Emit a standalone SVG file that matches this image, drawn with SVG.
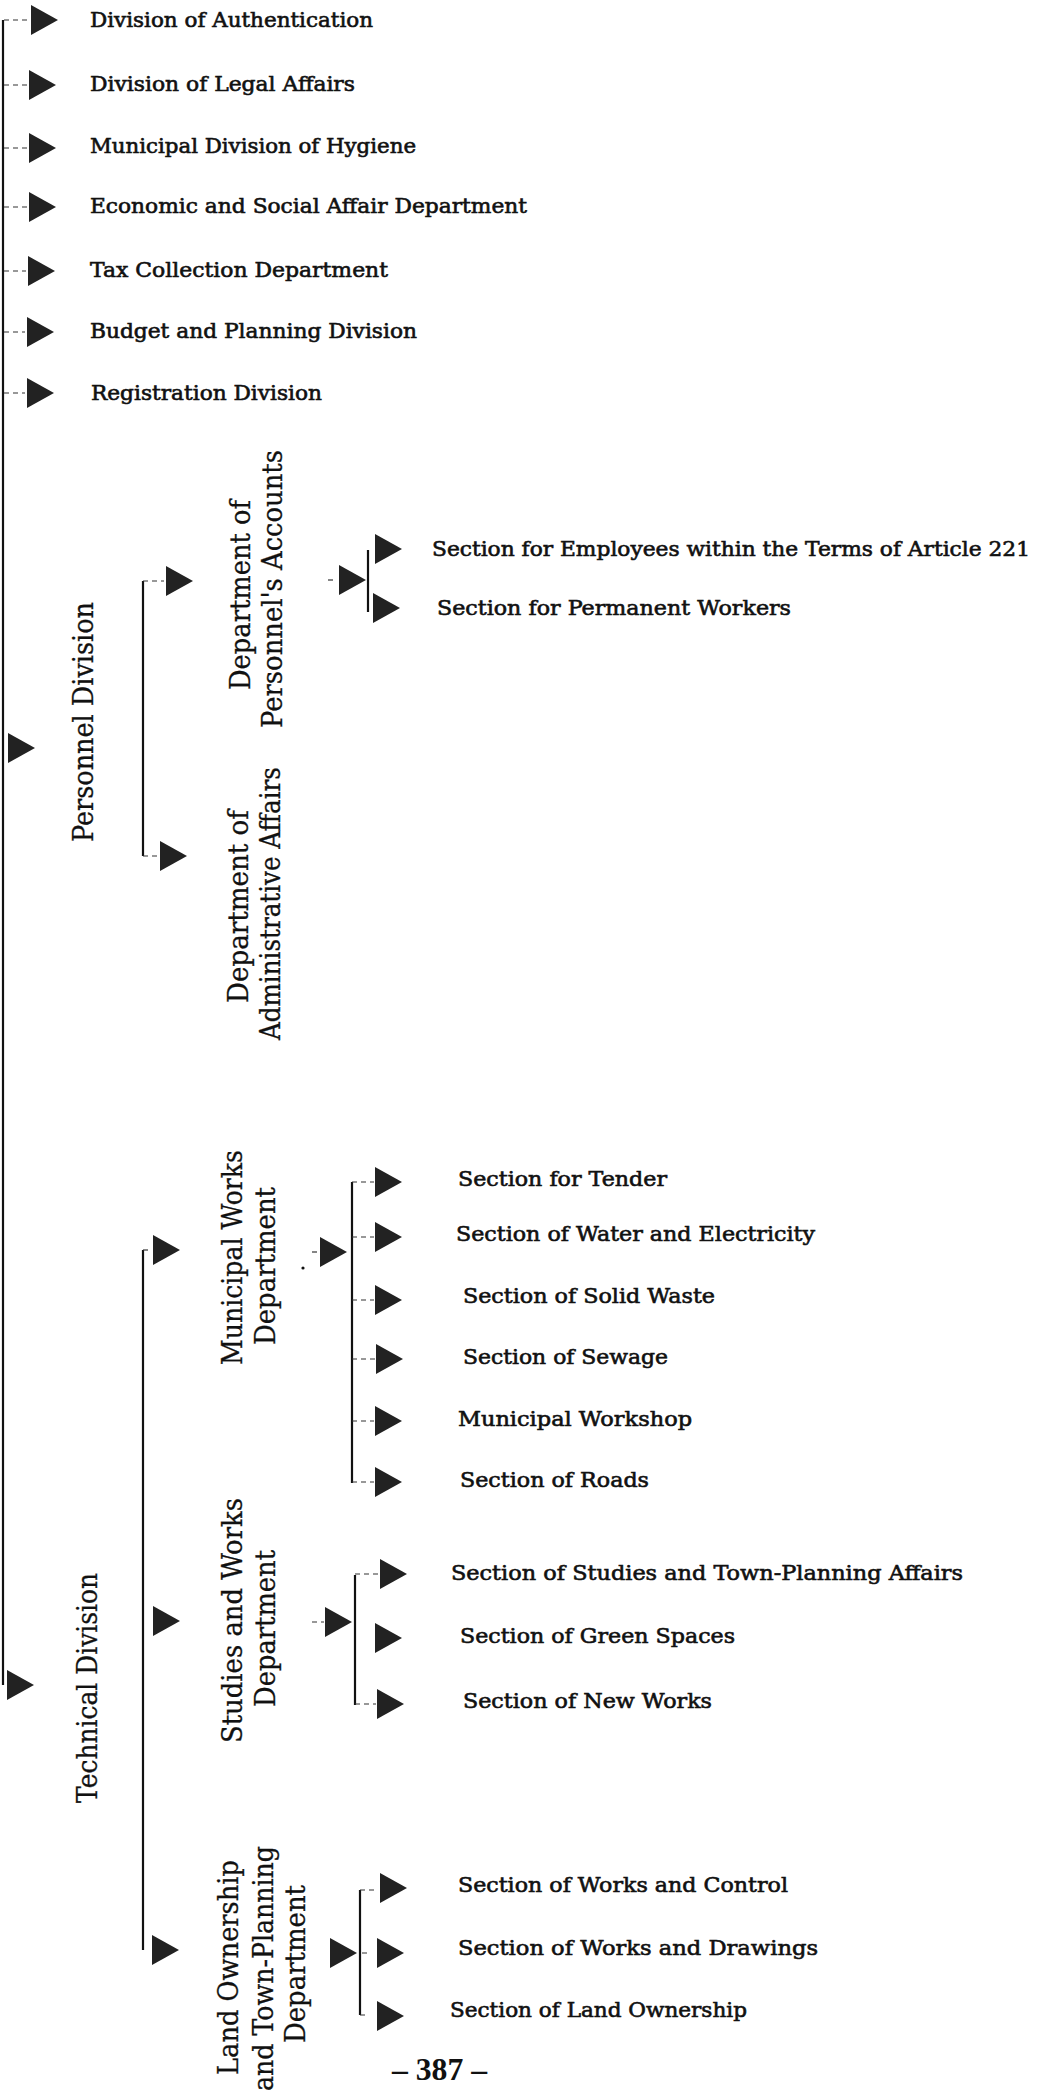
<svg xmlns="http://www.w3.org/2000/svg" width="1050" height="2093" viewBox="0 0 1050 2093">
  <style>
    .h { font-family: "DejaVu Serif", "Liberation Serif", serif; font-size: 20px; fill: #111; stroke: #111; stroke-width: 0.6; }
    .v { font-family: "DejaVu Serif", "Liberation Serif", serif; font-size: 27px; fill: #111; stroke: #111; stroke-width: 0.3; }
    .pg { font-family: "Liberation Serif", serif; font-size: 31px; font-weight: bold; fill: #111; }
    .ln { stroke: #111; stroke-width: 2.2; fill: none; }
    .st { stroke: #333; stroke-width: 1.2; stroke-dasharray: 5 4; fill: none; }
    .arw { fill: #222; }
  </style>
  <defs>
    <path id="tri" d="M0,-15 L27,0 L0,15 Z"/>
  </defs>
  <rect width="1050" height="2093" fill="#fff"/>

  <!-- connectors: trunk, brackets and stubs -->
  <g id="connectors">
    <path class="ln" d="M3,20 V1685"/>
    <path class="st" d="M4,20 H28 M4,85 H27 M4,148 H27 M4,207 H27 M4,271 H26 M4,332 H25 M4,393 H25"/>
    <!-- personnel division -->
    <path class="ln" d="M143,581 V856"/>
    <path class="st" d="M143,581 H164 M143,856 H158"/>
    <!-- personnel's accounts -->
    <path class="st" d="M328,580 H337"/>
    <use href="#tri" class="arw" x="339" y="580"/>
    <path class="ln" d="M368,550 V612"/>
    <!-- technical division -->
    <path class="ln" d="M143,1250 V1950"/>
    <path class="st" d="M143,1250 H151"/>
    <!-- municipal works -->
    <path class="st" d="M312,1252 H319"/>
    <use href="#tri" class="arw" x="320" y="1252"/>
    <circle cx="303" cy="1268" r="1.6" fill="#111"/>
    <path class="ln" d="M352,1182 V1483"/>
    <path class="st" d="M352,1182 H374 M352,1237 H374 M352,1300 H374 M352,1359 H375 M352,1421 H374 M352,1482 H374"/>
    <!-- studies and works -->
    <path class="st" d="M312,1622 H324"/>
    <use href="#tri" class="arw" x="325" y="1622"/>
    <path class="ln" d="M355,1575 V1705"/>
    <path class="st" d="M355,1574 H378 M355,1704 H376"/>
    <!-- land ownership -->
    <use href="#tri" class="arw" x="330" y="1953"/>
    <path class="ln" d="M360,1890 V2015"/>
    <path class="st" d="M360,1890 H378 M362,1953 H367 M360,2015 H367"/>
  </g>

  <!-- directly attached divisions -->
  <g id="div-authentication">
    <use href="#tri" class="arw" x="31" y="20"/>
    <text class="h" x="90" y="27" textLength="283" lengthAdjust="spacingAndGlyphs">Division of Authentication</text>
  </g>
  <g id="div-legal-affairs">
    <use href="#tri" class="arw" x="29" y="85"/>
    <text class="h" x="90" y="91" textLength="265" lengthAdjust="spacingAndGlyphs">Division of Legal Affairs</text>
  </g>
  <g id="div-hygiene">
    <use href="#tri" class="arw" x="29" y="148"/>
    <text class="h" x="90" y="153" textLength="326" lengthAdjust="spacingAndGlyphs">Municipal Division of Hygiene</text>
  </g>
  <g id="dep-economic-social">
    <use href="#tri" class="arw" x="29" y="207"/>
    <text class="h" x="90" y="213" textLength="437" lengthAdjust="spacingAndGlyphs">Economic and Social Affair Department</text>
  </g>
  <g id="dep-tax-collection">
    <use href="#tri" class="arw" x="28" y="271"/>
    <text class="h" x="90" y="277" textLength="298" lengthAdjust="spacingAndGlyphs">Tax Collection Department</text>
  </g>
  <g id="div-budget-planning">
    <use href="#tri" class="arw" x="27" y="332"/>
    <text class="h" x="90" y="338" textLength="327" lengthAdjust="spacingAndGlyphs">Budget and Planning Division</text>
  </g>
  <g id="div-registration">
    <use href="#tri" class="arw" x="27" y="393"/>
    <text class="h" x="91" y="400" textLength="231" lengthAdjust="spacingAndGlyphs">Registration Division</text>
  </g>

  <!-- personnel division -->
  <g id="div-personnel">
    <use href="#tri" class="arw" x="8" y="748"/>
    <text class="v" transform="translate(93,842) rotate(-90)" textLength="240" lengthAdjust="spacingAndGlyphs">Personnel Division</text>
  </g>
  <g id="dep-personnel-accounts">
    <use href="#tri" class="arw" x="166" y="581"/>
    <text class="v" transform="translate(250,690) rotate(-90)" textLength="190" lengthAdjust="spacingAndGlyphs">Department of</text>
    <text class="v" transform="translate(282,728) rotate(-90)" textLength="278" lengthAdjust="spacingAndGlyphs">Personnel's Accounts</text>
  </g>
  <g id="dep-administrative-affairs">
    <use href="#tri" class="arw" x="160" y="856"/>
    <text class="v" transform="translate(248,1003) rotate(-90)" textLength="193" lengthAdjust="spacingAndGlyphs">Department of</text>
    <text class="v" transform="translate(280,1040) rotate(-90)" textLength="273" lengthAdjust="spacingAndGlyphs">Administrative Affairs</text>
  </g>
  <g id="sec-article-221">
    <use href="#tri" class="arw" x="375" y="549"/>
    <text class="h" x="432" y="556" textLength="598" lengthAdjust="spacingAndGlyphs">Section for Employees within the Terms of Article 221</text>
  </g>
  <g id="sec-permanent-workers">
    <use href="#tri" class="arw" x="373" y="608"/>
    <text class="h" x="437" y="615" textLength="354" lengthAdjust="spacingAndGlyphs">Section for Permanent Workers</text>
  </g>

  <!-- technical division -->
  <g id="div-technical">
    <use href="#tri" class="arw" x="7" y="1685"/>
    <text class="v" transform="translate(97,1803) rotate(-90)" textLength="230" lengthAdjust="spacingAndGlyphs">Technical Division</text>
  </g>
  <g id="dep-municipal-works">
    <use href="#tri" class="arw" x="153" y="1250"/>
    <text class="v" transform="translate(242,1365) rotate(-90)" textLength="215" lengthAdjust="spacingAndGlyphs">Municipal Works</text>
    <text class="v" transform="translate(275,1345) rotate(-90)" textLength="158" lengthAdjust="spacingAndGlyphs">Department</text>
  </g>
  <g id="dep-studies-works">
    <use href="#tri" class="arw" x="153" y="1621"/>
    <text class="v" transform="translate(242,1743) rotate(-90)" textLength="245" lengthAdjust="spacingAndGlyphs">Studies and Works</text>
    <text class="v" transform="translate(275,1707) rotate(-90)" textLength="157" lengthAdjust="spacingAndGlyphs">Department</text>
  </g>
  <g id="dep-land-ownership">
    <use href="#tri" class="arw" x="152" y="1950"/>
    <text class="v" transform="translate(238,2075) rotate(-90)" textLength="215" lengthAdjust="spacingAndGlyphs">Land Ownership</text>
    <text class="v" transform="translate(273,2091) rotate(-90)" textLength="245" lengthAdjust="spacingAndGlyphs">and Town-Planning</text>
    <text class="v" transform="translate(305,2043) rotate(-90)" textLength="158" lengthAdjust="spacingAndGlyphs">Department</text>
  </g>

  <!-- municipal works sections -->
  <g id="sec-tender">
    <use href="#tri" class="arw" x="375" y="1182"/>
    <text class="h" x="458" y="1186" textLength="209" lengthAdjust="spacingAndGlyphs">Section for Tender</text>
  </g>
  <g id="sec-water-electricity">
    <use href="#tri" class="arw" x="375" y="1237"/>
    <text class="h" x="456" y="1241" textLength="359" lengthAdjust="spacingAndGlyphs">Section of Water and Electricity</text>
  </g>
  <g id="sec-solid-waste">
    <use href="#tri" class="arw" x="375" y="1300"/>
    <text class="h" x="463" y="1303" textLength="252" lengthAdjust="spacingAndGlyphs">Section of Solid Waste</text>
  </g>
  <g id="sec-sewage">
    <use href="#tri" class="arw" x="376" y="1359"/>
    <text class="h" x="463" y="1364" textLength="205" lengthAdjust="spacingAndGlyphs">Section of Sewage</text>
  </g>
  <g id="sec-workshop">
    <use href="#tri" class="arw" x="375" y="1421"/>
    <text class="h" x="458" y="1426" textLength="234" lengthAdjust="spacingAndGlyphs">Municipal Workshop</text>
  </g>
  <g id="sec-roads">
    <use href="#tri" class="arw" x="375" y="1482"/>
    <text class="h" x="460" y="1487" textLength="189" lengthAdjust="spacingAndGlyphs">Section of Roads</text>
  </g>

  <!-- studies and works sections -->
  <g id="sec-town-planning">
    <use href="#tri" class="arw" x="380" y="1574"/>
    <text class="h" x="451" y="1580" textLength="512" lengthAdjust="spacingAndGlyphs">Section of Studies and Town-Planning Affairs</text>
  </g>
  <g id="sec-green-spaces">
    <use href="#tri" class="arw" x="375" y="1638"/>
    <text class="h" x="460" y="1643" textLength="275" lengthAdjust="spacingAndGlyphs">Section of Green Spaces</text>
  </g>
  <g id="sec-new-works">
    <use href="#tri" class="arw" x="377" y="1704"/>
    <text class="h" x="463" y="1708" textLength="249" lengthAdjust="spacingAndGlyphs">Section of New Works</text>
  </g>

  <!-- land ownership sections -->
  <g id="sec-works-control">
    <use href="#tri" class="arw" x="380" y="1888"/>
    <text class="h" x="458" y="1892" textLength="330" lengthAdjust="spacingAndGlyphs">Section of Works and Control</text>
  </g>
  <g id="sec-works-drawings">
    <use href="#tri" class="arw" x="377" y="1953"/>
    <text class="h" x="458" y="1955" textLength="360" lengthAdjust="spacingAndGlyphs">Section of Works and Drawings</text>
  </g>
  <g id="sec-land-ownership">
    <use href="#tri" class="arw" x="377" y="2016"/>
    <text class="h" x="450" y="2017" textLength="297" lengthAdjust="spacingAndGlyphs">Section of Land Ownership</text>
  </g>

  <text class="pg" x="392" y="2080" textLength="95" lengthAdjust="spacingAndGlyphs">– 387 –</text>
</svg>
